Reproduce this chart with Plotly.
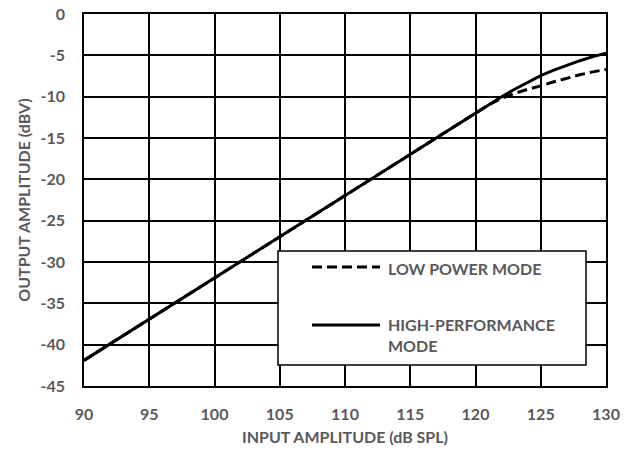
import plotly.graph_objects as go

# Data
x_hp = [90, 95, 100, 105, 110, 115, 120, 121, 122, 123, 124, 125, 126, 127, 128, 129, 130]
y_hp = [-41.9, -36.9, -31.9, -26.9, -21.9, -16.9, -11.9, -10.95, -10.0, -9.1, -8.25, -7.45,
        -6.8, -6.2, -5.65, -5.15, -4.75]
x_lp = [90, 95, 100, 105, 110, 115, 120, 121, 122, 123, 124, 125, 126, 127, 128, 129, 130]
y_lp = [-41.9, -36.9, -31.9, -26.9, -21.9, -16.9, -11.9, -11.0, -10.2, -9.6, -9.1, -8.7,
        -8.2, -7.75, -7.35, -7.0, -6.7]
x_ticks = [90, 95, 100, 105, 110, 115, 120, 125, 130]
y_ticks = [0, -5, -10, -15, -20, -25, -30, -35, -40, -45]
legend_labels = ["LOW POWER MODE", "HIGH-PERFORMANCE<br>MODE"]

GRAY = "#595959"
FONT = "Lato"
FS = 16
DASH = "10px,5px"

fig = go.Figure()
fig.add_trace(go.Scatter(x=x_lp, y=y_lp, mode="lines", name="LOW POWER MODE",
                         line=dict(color="black", width=3, dash=DASH), showlegend=False))
fig.add_trace(go.Scatter(x=x_hp, y=y_hp, mode="lines", name="HIGH-PERFORMANCE MODE",
                         line=dict(color="black", width=3), showlegend=False))

# Plot-area edges in window pixels
L, R, T, B = 84, 606, 14, 386
W, H = 632, 454
def px(x):
    return (x - L) / (R - L)
def py(y):
    return (B - y) / (B - T)

# Manual legend (box, sample lines, labels)
fig.add_shape(type="rect", xref="paper", yref="paper",
              x0=px(278), x1=px(586), y0=py(365), y1=py(251),
              line=dict(color="black", width=1.5), fillcolor="white", layer="above")
fig.add_shape(type="line", xref="paper", yref="paper",
              x0=px(312), x1=px(380), y0=py(267), y1=py(267),
              line=dict(color="black", width=3, dash=DASH), layer="above")
fig.add_shape(type="line", xref="paper", yref="paper",
              x0=px(312), x1=px(380), y0=py(325), y1=py(325),
              line=dict(color="black", width=3), layer="above")
fig.add_annotation(xref="paper", yref="paper", x=px(386), y=py(268),
                   text="<b>%s</b>" % legend_labels[0], showarrow=False,
                   xanchor="left", yanchor="middle", align="left",
                   font=dict(family=FONT, size=FS, color=GRAY))
fig.add_annotation(xref="paper", yref="paper", x=px(386), y=py(335),
                   text="<b>HIGH-PERFORMANCE</b><br><b>MODE</b>", showarrow=False,
                   xanchor="left", yanchor="middle", align="left",
                   font=dict(family=FONT, size=FS, color=GRAY))

fig.update_layout(
    width=W, height=H,
    margin=dict(l=L, r=W - R, t=T, b=H - B, autoexpand=False),
    plot_bgcolor="white", paper_bgcolor="white",
    font=dict(family=FONT, size=FS, color=GRAY),
)
fig.update_xaxes(range=[90, 130], tickvals=x_ticks, ticktext=[f"<b>{v}</b>" for v in x_ticks],
                 showgrid=True, gridcolor="black", gridwidth=1.5,
                 showline=True, linecolor="black", linewidth=1.5, mirror=True,
                 ticks="outside", ticklen=13, tickcolor="rgba(0,0,0,0)",
                 zeroline=False, automargin=False, ticklabeloverflow="allow",
                 title=dict(text="<b>INPUT AMPLITUDE (dB SPL)</b>", font=dict(size=FS, color=GRAY), standoff=10))
fig.update_yaxes(range=[-45, 0], tickvals=y_ticks, ticktext=[f"<b>{v}</b>" for v in y_ticks],
                 showgrid=True, gridcolor="black", gridwidth=1.5,
                 showline=True, linecolor="black", linewidth=1.5, mirror=True,
                 ticks="outside", ticklen=14, tickcolor="rgba(0,0,0,0)",
                 zeroline=False, automargin=False, ticklabeloverflow="allow",
                 title=dict(text="<b>OUTPUT AMPLITUDE (dBV)</b>", font=dict(size=FS, color=GRAY), standoff=6))

fig.write_html("out.html", config={"displayModeBar": False},
               post_script="document.body.style.margin='0';")
